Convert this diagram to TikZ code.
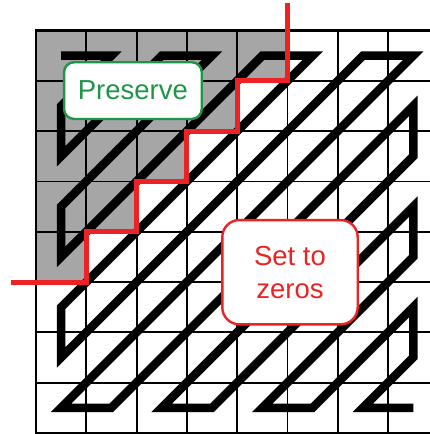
\documentclass[tikz,border=0pt]{standalone}
\usepackage{fontspec}
\setmainfont{Liberation Sans}
\definecolor{cellgray}{RGB}{166,166,166}
\definecolor{keepgreen}{RGB}{30,150,72}
\definecolor{zerored}{RGB}{237,34,36}
\begin{document}
\begin{tikzpicture}[x=1pt,y=-1pt,
  gridline/.style={line width=1.8pt},
  scanpath/.style={line width=8.5pt, line join=miter, miter limit=10},
  cutline/.style={zerored, line width=5pt, line join=miter},
  tag/.style={fill=white, line width=2.4pt, inner sep=0pt, align=center,
    font=\fontsize{27.5}{33.3}\selectfont},
  keeptag/.style={tag, draw=keepgreen, text=keepgreen, rounded corners=10pt,
    minimum width=137.7pt, minimum height=56.7pt},
  zerotag/.style={tag, draw=zerored, text=zerored, rounded corners=17pt,
    minimum width=135.4pt, minimum height=104.3pt}]
\useasboundingbox (0,0) rectangle (430,434);
\begin{scope}
  \clip (0,0) rectangle (430,434);
  \begin{scope}[shift={(36,30.5)}, x=50.3pt, y=-50.3pt]
    % kept (low-frequency) coefficients
    \fill[cellgray] (0,0) -- (5,0) -- (5,1) -- (4,1) -- (4,2) -- (3,2) -- (3,3)
      -- (2,3) -- (2,4) -- (1,4) -- (1,5) -- (0,5) -- cycle;
    % 8x8 coefficient grid
    \foreach \k in {1,...,7} {
      \draw[gridline] (\k,0) -- (\k,8);
      \draw[gridline] (0,\k) -- (8,\k);
    }
    \draw[line width=2.4pt] (0,0) rectangle (8,8);
    % zig-zag scan order through the cell centres
    \draw[scanpath, shift={(0.5,0.5)}]
      (0,0) -- (1,0) -- (0,1) -- (0,2) -- (2,0) -- (3,0) -- (0,3) -- (0,4)
      -- (4,0) -- (5,0) -- (0,5) -- (0,6) -- (6,0) -- (7,0) -- (0,7) -- (1,7)
      -- (7,1) -- (7,2) -- (2,7) -- (3,7) -- (7,3) -- (7,4) -- (4,7) -- (5,7)
      -- (7,5) -- (7,6) -- (6,7) -- (7,7);
    % cut between preserved and zeroed coefficients
    \draw[cutline] (-0.5,5) -- (1,5) -- (1,4) -- (2,4) -- (2,3) -- (3,3)
      -- (3,2) -- (4,2) -- (4,1) -- (5,1) -- (5,-0.54);
  \end{scope}
\end{scope}
\node[keeptag] (keep) at (132.9,90.6) {Preserve};
\node[zerotag] (zero) at (290,272.2) {Set to\\zeros};
\end{tikzpicture}
\end{document}
